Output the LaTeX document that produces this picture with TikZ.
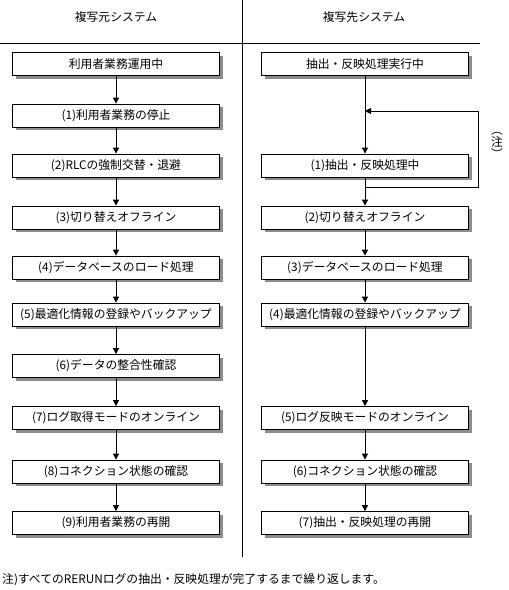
\documentclass[tikz,border=0pt]{standalone}
\usepackage{fontspec}
\setmainfont{Noto Sans CJK JP}
\usetikzlibrary{arrows.meta,shadows}
\begin{document}
\begin{tikzpicture}[x=1pt,y=-1pt,
    proc/.style={draw,fill=white,line width=0.8pt,minimum width=207pt,
      minimum height=23pt,inner sep=0pt,
      drop shadow={shadow xshift=3pt,shadow yshift=-3pt,fill=black!45,opacity=1}},
    flow/.style={-{Triangle[width=6pt,length=6pt]},line width=0.8pt},
    every node/.style={font=\fontsize{11.8}{14}\selectfont}]
  \useasboundingbox (0,0) rectangle (509,590);
  % column headers and dividing lines
  \node (hl) at (116,17) {複写元システム};
  \node (hr) at (364,17) {複写先システム};
  \draw[line width=0.8pt] (0,43) -- (480,43);
  \draw[line width=0.8pt] (242,0) -- (242,557);
  % source system
  \foreach \i/\y/\txt in {0/64/利用者業務運用中, 1/115.5/{(1)利用者業務の停止},
      2/165.5/{(2)RLCの強制交替・退避}, 3/217.5/{(3)切り替えオフライン},
      4/267.5/{(4)データベースのロード処理}, 5/314.5/{(5)最適化情報の登録やバックアップ},
      6/366/{(6)データの整合性確認}, 7/418/{(7)ログ取得モードのオンライン},
      8/471.5/{(8)コネクション状態の確認}, 9/523/{(9)利用者業務の再開}}{
    \node[proc] (l\i) at (116,\y) {\txt};
  }
  \foreach \a/\b in {0/1,1/2,2/3,3/4,4/5,5/6,6/7,7/8,8/9}
    \draw[flow] (l\a.south) -- (l\b.north);
  % target system
  \foreach \i/\y/\txt in {0/64/抽出・反映処理実行中, 2/165.5/{(1)抽出・反映処理中},
      3/217.5/{(2)切り替えオフライン}, 4/267.5/{(3)データベースのロード処理},
      5/314.5/{(4)最適化情報の登録やバックアップ}, 7/418/{(5)ログ反映モードのオンライン},
      8/471.5/{(6)コネクション状態の確認}, 9/523/{(7)抽出・反映処理の再開}}{
    \node[proc] (r\i) at (365,\y) {\txt};
  }
  \foreach \a/\b in {0/2,2/3,3/4,4/5,5/7,7/8,8/9}
    \draw[flow] (r\a.south) -- (r\b.north);
  % repeat loop
  \coordinate (lt) at (365,111);
  \coordinate (lb) at (365,187);
  \draw[flow] (lb) -- ++(113,0) |- (lt);
  \node[align=center,inner sep=0pt,font=\fontsize{11.8}{12}\selectfont]
    (note) at (497,145) {︵\\注\\︶};
  % footnote
  \node[anchor=west,inner sep=2pt] (fn) at (0,580)
    {注)すべてのRERUNログの抽出・反映処理が完了するまで繰り返します。};
\end{tikzpicture}
\end{document}
